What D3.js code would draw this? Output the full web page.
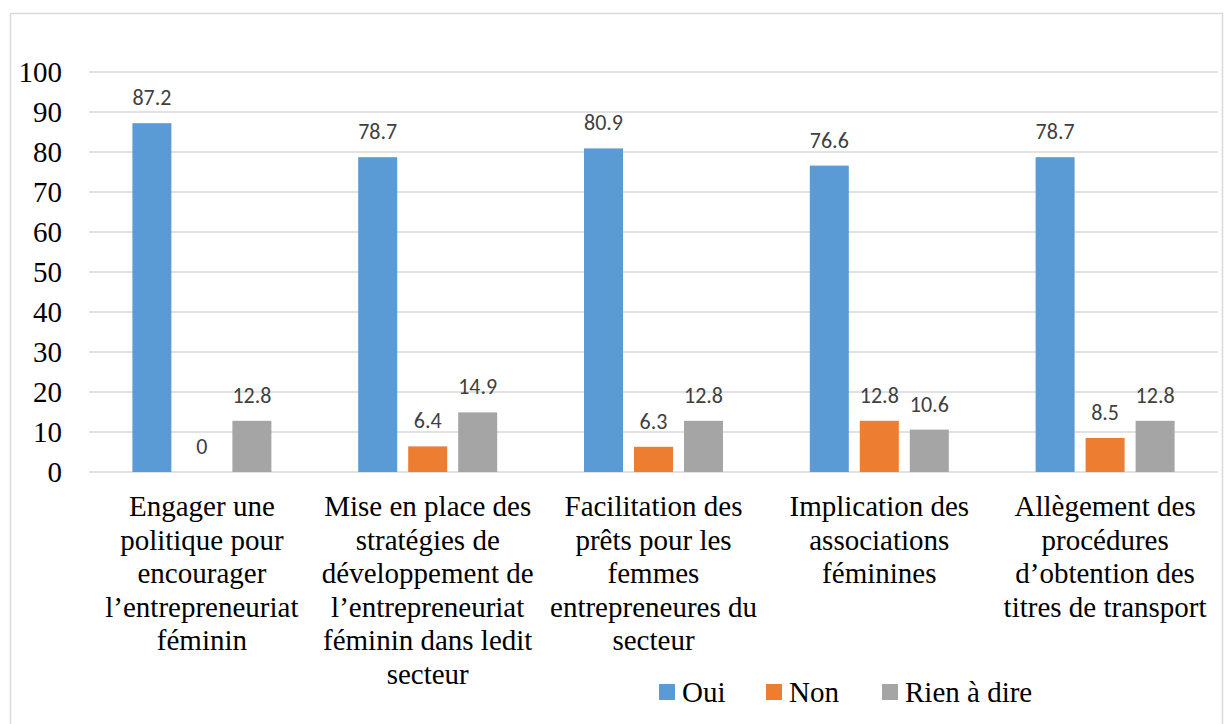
<!DOCTYPE html>
<html><head><meta charset="utf-8">
<script src="https://cdn.jsdelivr.net/npm/d3@7"></script>
<style>body{margin:0;background:#fff}</style>
</head><body>
<script>
const categories = [
  ["Engager une","politique pour","encourager","l’entrepreneuriat","féminin"],
  ["Mise en place des","stratégies de","développement de","l’entrepreneuriat","féminin dans ledit","secteur"],
  ["Facilitation des","prêts pour les","femmes","entrepreneures du","secteur"],
  ["Implication des","associations","féminines"],
  ["Allègement des","procédures","d’obtention des","titres de transport"]
];
const seriesNames = ["Oui","Non","Rien à dire"];
const oui = [87.2, 78.7, 80.9, 76.6, 78.7];
const non = [0, 6.4, 6.3, 12.8, 8.5];
const rien = [12.8, 14.9, 12.8, 10.6, 12.8];
const yTicks = [0,10,20,30,40,50,60,70,80,90,100];
const colors = ["#5B9BD5","#ED7D31","#A5A5A5"];

const svg = d3.select("body").append("svg").attr("width", 1229).attr("height", 724);
svg.append("rect").attr("x",10.5).attr("y",13.5).attr("width",1212).attr("height",730)
  .attr("fill","none").attr("stroke","#d9d9d9").attr("stroke-width",1.5);

const x0 = d3.scaleBand().domain(d3.range(categories.length)).range([89, 1218]);
const y = d3.scaleLinear().domain([0,100]).range([472, 72]);
const series = [oui, non, rien];
const pitch = 50, bw = 39;
const cx = i => x0(i) + x0.bandwidth()/2;

// gridlines
yTicks.forEach(t => {
  svg.append("line").attr("x1",89).attr("x2",1218).attr("y1",y(t)).attr("y2",y(t))
    .attr("stroke","#d9d9d9").attr("stroke-width",1.5);
});

// y tick labels
yTicks.forEach(t => {
  svg.append("text").attr("x",62).attr("y",y(t)+10).attr("text-anchor","end")
    .style("font-family",'"Liberation Serif"').style("font-size","29px").attr("fill","#000").text(t);
});

// bars
series.forEach((vals, si) => {
  vals.forEach((v,i) => {
    svg.append("rect").attr("x",cx(i)+(si-1)*pitch-bw/2).attr("width",bw)
      .attr("y",y(v)).attr("height",y(0)-y(v)).attr("fill",colors[si]);
  });
});
// data labels
series.forEach((vals, si) => {
  vals.forEach((v,i) => {
    svg.append("text").attr("x",cx(i)+(si-1)*pitch).attr("y",y(v)-18).attr("text-anchor","middle")
      .style("font-family",'"Carlito"').style("font-size","22px").attr("fill","#404040").text(v);
  });
});

// category labels
categories.forEach((lines,i)=>{
  lines.forEach((l,j)=>{
    svg.append("text").attr("x",cx(i)).attr("y",516+j*33.6).attr("text-anchor","middle")
      .style("font-family",'"Liberation Serif"').style("font-size","29px").attr("fill","#000").text(l);
  });
});

// legend
const legX = [659, 766, 882];
seriesNames.forEach((n,i)=>{
  svg.append("rect").attr("x",legX[i]).attr("y",684).attr("width",16).attr("height",16).attr("fill",colors[i]);
  svg.append("text").attr("x",legX[i]+23).attr("y",702)
    .style("font-family",'"Liberation Serif"').style("font-size","29px").attr("fill","#000").text(n);
});
</script>
</body></html>
